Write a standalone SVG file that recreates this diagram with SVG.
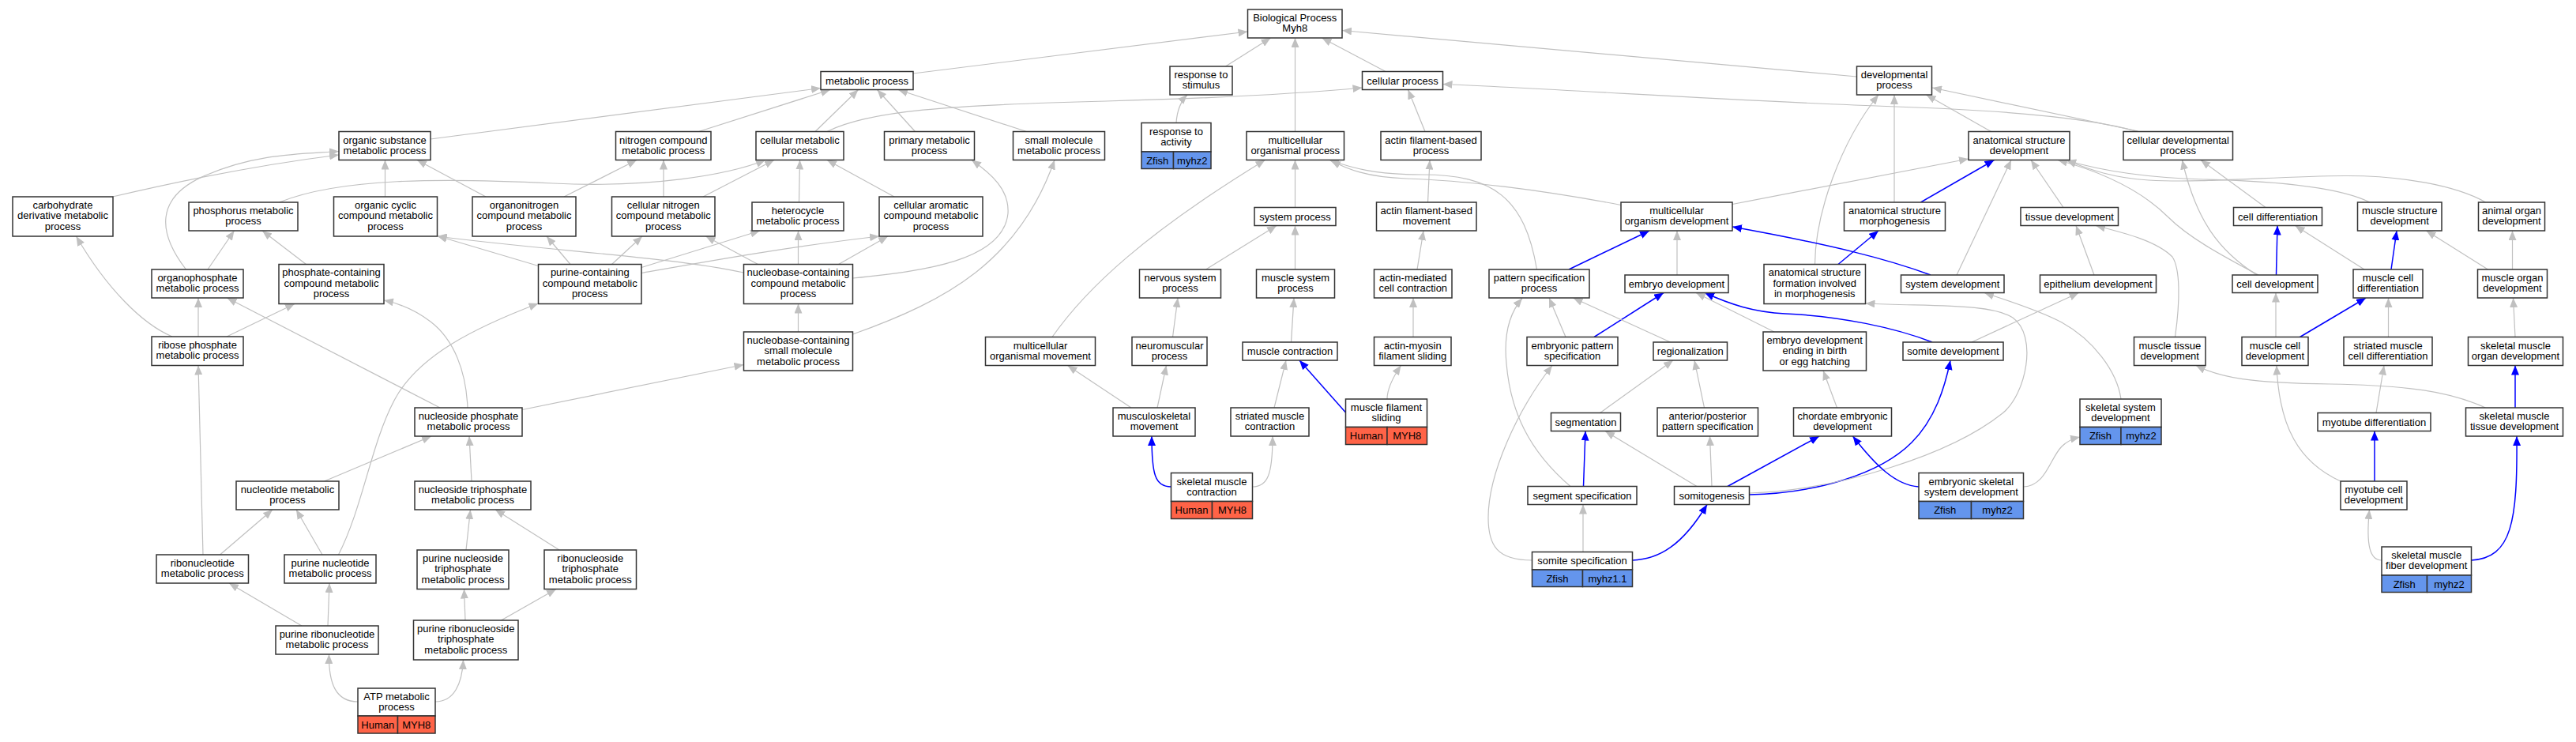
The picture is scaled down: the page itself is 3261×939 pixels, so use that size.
<svg xmlns="http://www.w3.org/2000/svg" width="3261" height="939" viewBox="0 0 3261 939">
<style>
.node rect{fill:#fff;stroke:#333;stroke-width:1.5}
.node rect.hs{fill:#ff6347}
.node rect.zf{fill:#6495ed}
text{font-family:"Liberation Sans",Arial,sans-serif;font-size:13px;text-anchor:middle;fill:#000}
.e{fill:none;stroke:#c0c0c0;stroke-width:1.2;marker-end:url(#ag)}
.e.b{stroke:#0000ff;stroke-width:1.5;marker-end:url(#ab)}
</style>
<defs>
<marker id="ag" viewBox="0 0 12 10" refX="12" refY="5" markerWidth="12" markerHeight="10" markerUnits="userSpaceOnUse" orient="auto"><path d="M0,0L12,5L0,10z" fill="#c0c0c0"/></marker>
<marker id="ab" viewBox="0 0 12 10" refX="12" refY="5" markerWidth="12" markerHeight="10" markerUnits="userSpaceOnUse" orient="auto"><path d="M0,0L12,5L0,10z" fill="#0000ff"/></marker>
</defs>
<rect width="3261" height="939" fill="#fff"/>
<g id="edges">
<path class="e" d="M142.5,249 Q300,212 429,196"/>
<path class="e" d="M235.5,341 C200,295 195,250 260,222 S380,195 429,191.5"/>
<path class="e" d="M487.5,249 L487.5,202.5"/>
<path class="e" d="M615,249 L528,202.5"/>
<path class="e" d="M545,176 L1039,111.5"/>
<path class="e" d="M353.5,256 C430,225 560,225 700,232 C820,238 920,222 969,202.5"/>
<path class="e" d="M263,341 L296.5,292"/>
<path class="e" d="M387.5,334.5 L332,292"/>
<path class="e" d="M251,426 L251,377"/>
<path class="e" d="M287,426 L373,384.5"/>
<path class="e" d="M218,426 C180,410 135,365 96.5,299"/>
<path class="e" d="M557,516 L287.5,377"/>
<path class="e" d="M592,516 C590,470 575,430 545,407 C525,392 505,384 486,380"/>
<path class="e" d="M410.5,609 L546,552"/>
<path class="e" d="M278.5,702 L345,645"/>
<path class="e" d="M408,702 L375,645"/>
<path class="e" d="M257,702 L251,462.5"/>
<path class="e" d="M382,792 L290,738"/>
<path class="e" d="M415,792 L417,738"/>
<path class="e" d="M453,888 C425,888 416,865 416.5,828"/>
<path class="e" d="M551,888 C575,888 585,865 586.5,835"/>
<path class="e" d="M589,785 L587.5,745.5"/>
<path class="e" d="M634.5,785 L704,745.5"/>
<path class="e" d="M590,696 L595.5,645"/>
<path class="e" d="M708,696 L627,645"/>
<path class="e" d="M597,609 L594,552"/>
<path class="e" d="M661,518.5 L941.5,461.5"/>
<path class="e" d="M428.5,702 C460,640 470,560 500,505 S600,415 681.5,384"/>
<path class="e" d="M884.5,166.5 L1051,113.5"/>
<path class="e" d="M1032,166.5 L1086.5,113.5"/>
<path class="e" d="M714,249 L806,202.5"/>
<path class="e" d="M840,249 L840,202.5"/>
<path class="e" d="M890,249 L980,202.5"/>
<path class="e" d="M1011.5,256 L1012.5,202.5"/>
<path class="e" d="M1132,249 L1047,202.5"/>
<path class="e" d="M722,334.5 L692,299"/>
<path class="e" d="M774.5,334.5 L813,299"/>
<path class="e" d="M812,338.5 L962,292"/>
<path class="e" d="M681.5,336.5 L553.5,298.5"/>
<path class="e" d="M941.5,345 C850,325 700,318 553.5,299"/>
<path class="e" d="M812,345.5 C900,330 1000,312 1113,299"/>
<path class="e" d="M1061.5,334.5 L1124,299"/>
<path class="e" d="M1010.5,334.5 L1010.5,292"/>
<path class="e" d="M959.5,334.5 L893.5,299"/>
<path class="e" d="M1010.5,420 L1010.5,384.5"/>
<path class="e" d="M1079.5,423 C1200,380 1290,330 1335,202.5"/>
<path class="e" d="M1079.5,352 C1170,343 1270,330 1276,270 C1278,240 1255,220 1230,202.5"/>
<path class="e" d="M1047,166.5 C1100,140 1200,133 1400,128 C1550,124 1650,118 1724.5,111"/>
<path class="e" d="M1156,93 L1579.5,40"/>
<path class="e" d="M1158.5,166.5 L1110.5,113.5"/>
<path class="e" d="M1299.5,166.5 L1137,113.5"/>
<path class="e" d="M1551.5,84 L1608.5,48"/>
<path class="e" d="M1489,155.5 C1490,140 1495,128 1503,120"/>
<path class="e" d="M1639.5,166.5 L1639.5,48"/>
<path class="e" d="M1754,90.5 L1673.5,48"/>
<path class="e" d="M2350.5,97 L1699,38.5"/>
<path class="e" d="M2706,166.5 C2650,150 2550,140 2400,135 C2200,128 2000,114 1826.5,106.5"/>
<path class="e" d="M1332,426.5 C1375,365 1450,295 1601.5,202.5"/>
<path class="e" d="M1639.5,262.5 L1639.5,202.5"/>
<path class="e" d="M1526.5,341 L1616,285.5"/>
<path class="e" d="M1639.5,341 L1639.5,285.5"/>
<path class="e" d="M1484.5,426.5 L1491,377"/>
<path class="e" d="M1634.5,433 L1638,377"/>
<path class="e" d="M1432,516 L1351.5,462.5"/>
<path class="e" d="M1465,516 L1476.5,462.5"/>
<path class="e" d="M1613,516 L1628,456"/>
<path class="e b" d="M1482.5,616 C1462,616 1458,600 1458,552"/>
<path class="e" d="M1585.5,616 C1605,616 1611,600 1611,552"/>
<path class="e b" d="M1703.5,522 L1645,456"/>
<path class="e" d="M1756,505 C1756,490 1765,475 1773.5,462.5"/>
<path class="e" d="M1789,426.5 L1789,377"/>
<path class="e" d="M1794,341 L1802,292"/>
<path class="e" d="M1807.5,256 L1810,202.5"/>
<path class="e" d="M1804,166.5 L1782.5,113.5"/>
<path class="e" d="M1945.5,341 C1930,250 1890,221 1800,221 C1740,221 1710,212 1683,202.5"/>
<path class="e" d="M2052,259.5 C1950,240 1850,228 1780,226 C1730,224 1705,214 1685,203"/>
<path class="e b" d="M1986,341 L2088,292"/>
<path class="e" d="M2123,348 L2123,292"/>
<path class="e" d="M1982,426.5 L1961,377"/>
<path class="e b" d="M2018,426.5 L2106,370.5"/>
<path class="e" d="M2114.5,433 L1991.5,377"/>
<path class="e b" d="M2446,433 C2400,415 2330,400 2260,397 C2220,395 2190,385 2158,370.5"/>
<path class="e" d="M2246,420 L2147,370.5"/>
<path class="e" d="M1988,615.5 C1935,570 1912,520 1907,460 C1903,420 1912,395 1927,377.5"/>
<path class="e" d="M1939.5,709 C1895,709 1884,690 1884,655 C1884,600 1920,520 1965,462.5"/>
<path class="e" d="M2025.5,522.5 L2118,456"/>
<path class="e" d="M2157.5,516 L2145,456"/>
<path class="e b" d="M2004.5,615.5 L2007,545.5"/>
<path class="e" d="M2148,615.5 L2032,545.5"/>
<path class="e" d="M2167,615.5 L2164.5,552"/>
<path class="e" d="M2004,698.5 L2004,638.5"/>
<path class="e b" d="M2066.5,709 C2100,708 2130,690 2161,638.5"/>
<path class="e b" d="M2214.5,626 C2300,624 2380,600 2420,560 C2450,530 2462,490 2469,456"/>
<path class="e b" d="M2187,615.5 L2303,552"/>
<path class="e" d="M2214.5,624 C2330,620 2470,575 2535,523 C2565,499 2580,425 2548,402 C2520,384 2450,388 2361.5,384"/>
<path class="e" d="M2325.5,516 L2308,469"/>
<path class="e b" d="M2429,616 C2400,614 2375,590 2345.5,552"/>
<path class="e" d="M2561.5,616 C2590,615 2595,580 2610,565 C2617,558 2624,555 2633,553"/>
<path class="e" d="M2685,505 C2680,470 2650,430 2610,408 C2580,392 2540,380 2512,370.5"/>
<path class="e" d="M2520.5,166.5 L2438.5,120"/>
<path class="e" d="M2398,256 L2398,120"/>
<path class="e" d="M2297.5,334.5 C2298,270 2330,180 2378,120"/>
<path class="e" d="M2706.5,166 L2446,111"/>
<path class="e" d="M2193,258.5 L2492,201"/>
<path class="e b" d="M2431.5,256 L2524.5,202.5"/>
<path class="e" d="M2477,348 L2546,202.5"/>
<path class="e" d="M2612,262.5 L2571,202.5"/>
<path class="e" d="M3000,256 C2960,236 2880,229 2790,227 C2720,225 2660,216 2616,203"/>
<path class="e" d="M3146.5,256 C3110,235 3040,222 2968,222.5 C2880,223 2790,232 2720,228 C2670,225 2640,212 2616,203"/>
<path class="e" d="M2859,348 C2810,322 2770,300 2745,275 C2715,245 2670,220 2605,202.5"/>
<path class="e" d="M2857,348 C2810,318 2780,280 2762.5,202.5"/>
<path class="e" d="M2868,262.5 L2786,202.5"/>
<path class="e" d="M2651,348 L2628,285.5"/>
<path class="e" d="M2753.5,426.5 C2760,380 2760,340 2750,325 C2730,305 2690,295 2653,285.5"/>
<path class="e" d="M2496,433 L2631.5,370.5"/>
<path class="e b" d="M2444,348 C2390,328 2320,310 2193,287"/>
<path class="e b" d="M2881.5,348 L2883,285.5"/>
<path class="e" d="M2993,341 L2905.5,285.5"/>
<path class="e b" d="M3027,341 L3034,292"/>
<path class="e" d="M3149.5,341 L3071.5,292"/>
<path class="e" d="M3180.5,341 L3180.5,292"/>
<path class="e" d="M2881,426.5 L2881,370.5"/>
<path class="e b" d="M2911.5,426.5 L2995,377"/>
<path class="e" d="M3023.5,426.5 L3023.5,377"/>
<path class="e" d="M3184,426.5 L3181.5,377"/>
<path class="e b" d="M3184,516 L3184,462.5"/>
<path class="e" d="M3146.5,516 C3100,495 3050,488 2950,486 C2850,485 2810,478 2780,462.5"/>
<path class="e" d="M2963,609 C2910,585 2885,540 2882,462.5"/>
<path class="e" d="M3008,522.5 L3018,462.5"/>
<path class="e b" d="M3006,609 L3006,545.5"/>
<path class="e" d="M3015,709 C3000,709 2995,690 2999.5,645"/>
<path class="e b" d="M3128.5,709 C3180,706 3187,660 3186,552"/>
<path class="e b" d="M2327,334.5 L2378,292"/>
</g>
<g id="n_organic_substance" class="node"><rect x="429" y="166.5" width="116" height="36"/><text x="487" y="181.5">organic substance</text><text x="487" y="194.5">metabolic process</text></g>
<g id="n_carbohydrate_derivative" class="node"><rect x="16" y="249" width="127" height="50"/><text x="79.5" y="263.5">carbohydrate</text><text x="79.5" y="277">derivative metabolic</text><text x="79.5" y="290.5">process</text></g>
<g id="n_phosphorus" class="node"><rect x="239" y="256" width="138" height="36"/><text x="308" y="271">phosphorus metabolic</text><text x="308" y="284">process</text></g>
<g id="n_organic_cyclic" class="node"><rect x="422.5" y="249" width="131" height="50"/><text x="488" y="263.5">organic cyclic</text><text x="488" y="277">compound metabolic</text><text x="488" y="290.5">process</text></g>
<g id="n_organophosphate" class="node"><rect x="192" y="341" width="116" height="36"/><text x="250" y="356">organophosphate</text><text x="250" y="369">metabolic process</text></g>
<g id="n_phosphate_containing" class="node"><rect x="353" y="334.5" width="133" height="50"/><text x="419.5" y="349">phosphate-containing</text><text x="419.5" y="362.5">compound metabolic</text><text x="419.5" y="376">process</text></g>
<g id="n_ribose_phosphate" class="node"><rect x="192" y="426" width="116" height="36.5"/><text x="250" y="441">ribose phosphate</text><text x="250" y="454">metabolic process</text></g>
<g id="n_nucleotide" class="node"><rect x="299" y="609" width="130" height="36"/><text x="364" y="624">nucleotide metabolic</text><text x="364" y="637">process</text></g>
<g id="n_ribonucleotide" class="node"><rect x="198" y="702" width="116.5" height="36"/><text x="256.25" y="717">ribonucleotide</text><text x="256.25" y="730">metabolic process</text></g>
<g id="n_purine_nucleotide" class="node"><rect x="360" y="702" width="116" height="36"/><text x="418" y="717">purine nucleotide</text><text x="418" y="730">metabolic process</text></g>
<g id="n_purine_ribonucleotide" class="node"><rect x="349" y="792" width="130" height="36"/><text x="414" y="807">purine ribonucleotide</text><text x="414" y="820">metabolic process</text></g>
<g id="n_atp" class="node"><rect x="453" y="871" width="98" height="35"/><rect class="hs" x="453" y="906" width="50.5" height="22"/><rect class="hs" x="503.5" y="906" width="47.5" height="22"/><text x="502" y="886">ATP metabolic</text><text x="502" y="899">process</text><text x="478.25" y="921.5">Human</text><text x="527.25" y="921.5">MYH8</text></g>
<g id="n_nucleoside_phosphate" class="node"><rect x="525" y="516" width="136" height="36"/><text x="593" y="531">nucleoside phosphate</text><text x="593" y="544">metabolic process</text></g>
<g id="n_nucleoside_triphosphate" class="node"><rect x="525" y="609" width="147" height="36"/><text x="598.5" y="624">nucleoside triphosphate</text><text x="598.5" y="637">metabolic process</text></g>
<g id="n_purine_nucleoside_triphosphate" class="node"><rect x="528" y="696" width="116" height="49.5"/><text x="586" y="710.5">purine nucleoside</text><text x="586" y="724">triphosphate</text><text x="586" y="737.5">metabolic process</text></g>
<g id="n_ribonucleoside_triphosphate" class="node"><rect x="689" y="696" width="116.5" height="49.5"/><text x="747.25" y="710.5">ribonucleoside</text><text x="747.25" y="724">triphosphate</text><text x="747.25" y="737.5">metabolic process</text></g>
<g id="n_purine_ribonucleoside_triphosphate" class="node"><rect x="523.5" y="785" width="132.5" height="50"/><text x="589.75" y="799.5">purine ribonucleoside</text><text x="589.75" y="813">triphosphate</text><text x="589.75" y="826.5">metabolic process</text></g>
<g id="n_metabolic_process" class="node"><rect x="1039" y="90.5" width="117" height="23"/><text x="1097.5" y="106.5">metabolic process</text></g>
<g id="n_nitrogen_compound" class="node"><rect x="779.5" y="166.5" width="120.5" height="36"/><text x="839.75" y="181.5">nitrogen compound</text><text x="839.75" y="194.5">metabolic process</text></g>
<g id="n_cellular_metabolic" class="node"><rect x="957" y="166.5" width="111" height="36"/><text x="1012.5" y="181.5">cellular metabolic</text><text x="1012.5" y="194.5">process</text></g>
<g id="n_organonitrogen" class="node"><rect x="598" y="249" width="131" height="50"/><text x="663.5" y="263.5">organonitrogen</text><text x="663.5" y="277">compound metabolic</text><text x="663.5" y="290.5">process</text></g>
<g id="n_cellular_nitrogen" class="node"><rect x="774.5" y="249" width="130.5" height="50"/><text x="839.75" y="263.5">cellular nitrogen</text><text x="839.75" y="277">compound metabolic</text><text x="839.75" y="290.5">process</text></g>
<g id="n_heterocycle" class="node"><rect x="952" y="256" width="116" height="36"/><text x="1010" y="271">heterocycle</text><text x="1010" y="284">metabolic process</text></g>
<g id="n_purine_containing" class="node"><rect x="681.5" y="334.5" width="130.5" height="50"/><text x="746.75" y="349">purine-containing</text><text x="746.75" y="362.5">compound metabolic</text><text x="746.75" y="376">process</text></g>
<g id="n_nucleobase_compound" class="node"><rect x="941.5" y="334.5" width="138" height="50"/><text x="1010.5" y="349">nucleobase-containing</text><text x="1010.5" y="362.5">compound metabolic</text><text x="1010.5" y="376">process</text></g>
<g id="n_nucleobase_small" class="node"><rect x="941.5" y="420" width="138" height="49"/><text x="1010.5" y="434.5">nucleobase-containing</text><text x="1010.5" y="448">small molecule</text><text x="1010.5" y="461.5">metabolic process</text></g>
<g id="n_primary_metabolic" class="node"><rect x="1119.5" y="166.5" width="114" height="36"/><text x="1176.5" y="181.5">primary metabolic</text><text x="1176.5" y="194.5">process</text></g>
<g id="n_small_molecule" class="node"><rect x="1282.5" y="166.5" width="116" height="36"/><text x="1340.5" y="181.5">small molecule</text><text x="1340.5" y="194.5">metabolic process</text></g>
<g id="n_cellular_aromatic" class="node"><rect x="1113" y="249" width="131" height="50"/><text x="1178.5" y="263.5">cellular aromatic</text><text x="1178.5" y="277">compound metabolic</text><text x="1178.5" y="290.5">process</text></g>
<g id="n_biological_process" class="node"><rect x="1579.5" y="12" width="119.5" height="36"/><text x="1639.25" y="27">Biological Process</text><text x="1639.25" y="40">Myh8</text></g>
<g id="n_response_stimulus" class="node"><rect x="1481" y="84" width="79" height="36"/><text x="1520.5" y="99">response to</text><text x="1520.5" y="112">stimulus</text></g>
<g id="n_response_activity" class="node"><rect x="1445" y="155.5" width="88" height="36.5"/><rect class="zf" x="1445" y="192" width="40.5" height="21.5"/><rect class="zf" x="1485.5" y="192" width="47.5" height="21.5"/><text x="1489" y="170.5">response to</text><text x="1489" y="183.5">activity</text><text x="1465.25" y="207.5">Zfish</text><text x="1509.25" y="207.5">myhz2</text></g>
<g id="n_multicellular_organismal_process" class="node"><rect x="1578" y="166.5" width="123.5" height="36"/><text x="1639.75" y="181.5">multicellular</text><text x="1639.75" y="194.5">organismal process</text></g>
<g id="n_system_process" class="node"><rect x="1588" y="262.5" width="103" height="23"/><text x="1639.5" y="278.5">system process</text></g>
<g id="n_nervous_system_process" class="node"><rect x="1442.5" y="341" width="103" height="36"/><text x="1494" y="356">nervous system</text><text x="1494" y="369">process</text></g>
<g id="n_muscle_system_process" class="node"><rect x="1590.5" y="341" width="99" height="36"/><text x="1640" y="356">muscle system</text><text x="1640" y="369">process</text></g>
<g id="n_organismal_movement" class="node"><rect x="1247.5" y="426.5" width="139" height="36"/><text x="1317" y="441.5">multicellular</text><text x="1317" y="454.5">organismal movement</text></g>
<g id="n_neuromuscular" class="node"><rect x="1433" y="426.5" width="95" height="36"/><text x="1480.5" y="441.5">neuromuscular</text><text x="1480.5" y="454.5">process</text></g>
<g id="n_muscle_contraction" class="node"><rect x="1573" y="433" width="120" height="23"/><text x="1633" y="449">muscle contraction</text></g>
<g id="n_musculoskeletal" class="node"><rect x="1409" y="516" width="104" height="36"/><text x="1461" y="531">musculoskeletal</text><text x="1461" y="544">movement</text></g>
<g id="n_striated_contraction" class="node"><rect x="1558" y="516" width="99" height="36"/><text x="1607.5" y="531">striated muscle</text><text x="1607.5" y="544">contraction</text></g>
<g id="n_skeletal_contraction" class="node"><rect x="1482.5" y="598.5" width="103" height="36"/><rect class="hs" x="1482.5" y="634.5" width="52" height="22"/><rect class="hs" x="1534.5" y="634.5" width="51" height="22"/><text x="1534" y="613.5">skeletal muscle</text><text x="1534" y="626.5">contraction</text><text x="1508.5" y="650">Human</text><text x="1560" y="650">MYH8</text></g>
<g id="n_cellular_process" class="node"><rect x="1724.5" y="90.5" width="102" height="23"/><text x="1775.5" y="106.5">cellular process</text></g>
<g id="n_actin_process" class="node"><rect x="1748" y="166.5" width="127" height="36"/><text x="1811.5" y="181.5">actin filament-based</text><text x="1811.5" y="194.5">process</text></g>
<g id="n_actin_movement" class="node"><rect x="1742.5" y="256" width="126.5" height="36"/><text x="1805.75" y="271">actin filament-based</text><text x="1805.75" y="284">movement</text></g>
<g id="n_actin_mediated" class="node"><rect x="1739.5" y="341" width="98.5" height="36"/><text x="1788.75" y="356">actin-mediated</text><text x="1788.75" y="369">cell contraction</text></g>
<g id="n_actin_myosin" class="node"><rect x="1739.5" y="426.5" width="97.5" height="36"/><text x="1788.25" y="441.5">actin-myosin</text><text x="1788.25" y="454.5">filament sliding</text></g>
<g id="n_muscle_filament" class="node"><rect x="1703.5" y="505" width="103" height="35.5"/><rect class="hs" x="1703.5" y="540.5" width="52.5" height="22"/><rect class="hs" x="1756" y="540.5" width="50.5" height="22"/><text x="1755" y="520">muscle filament</text><text x="1755" y="533">sliding</text><text x="1729.75" y="556">Human</text><text x="1781.25" y="556">MYH8</text></g>
<g id="n_organism_development" class="node"><rect x="2052" y="256" width="141" height="36"/><text x="2122.5" y="271">multicellular</text><text x="2122.5" y="284">organism development</text></g>
<g id="n_pattern_specification" class="node"><rect x="1885" y="341" width="127" height="36"/><text x="1948.5" y="356">pattern specification</text><text x="1948.5" y="369">process</text></g>
<g id="n_embryo_development" class="node"><rect x="2057" y="348" width="131" height="22.5"/><text x="2122.5" y="363.5">embryo development</text></g>
<g id="n_embryonic_pattern" class="node"><rect x="1933" y="426.5" width="115" height="36"/><text x="1990.5" y="441.5">embryonic pattern</text><text x="1990.5" y="454.5">specification</text></g>
<g id="n_regionalization" class="node"><rect x="2093" y="433" width="93.5" height="23"/><text x="2139.75" y="449">regionalization</text></g>
<g id="n_segmentation" class="node"><rect x="1963.5" y="522.5" width="88" height="23"/><text x="2007.5" y="538.5">segmentation</text></g>
<g id="n_anterior_posterior" class="node"><rect x="2098" y="516" width="127.5" height="36"/><text x="2161.75" y="531">anterior/posterior</text><text x="2161.75" y="544">pattern specification</text></g>
<g id="n_segment_specification" class="node"><rect x="1934" y="615.5" width="138" height="23"/><text x="2003" y="631.5">segment specification</text></g>
<g id="n_somitogenesis" class="node"><rect x="2119.5" y="615.5" width="95" height="23"/><text x="2167" y="631.5">somitogenesis</text></g>
<g id="n_somite_specification" class="node"><rect x="1939.5" y="698.5" width="127" height="22.5"/><rect class="zf" x="1939.5" y="721" width="64" height="21.5"/><rect class="zf" x="2003.5" y="721" width="63" height="21.5"/><text x="2003" y="714">somite specification</text><text x="1971.5" y="736.5">Zfish</text><text x="2035" y="736.5">myhz1.1</text></g>
<g id="n_developmental_process" class="node"><rect x="2350.5" y="84" width="95" height="36"/><text x="2398" y="99">developmental</text><text x="2398" y="112">process</text></g>
<g id="n_as_development" class="node"><rect x="2492" y="166.5" width="128" height="36"/><text x="2556" y="181.5">anatomical structure</text><text x="2556" y="194.5">development</text></g>
<g id="n_cellular_developmental" class="node"><rect x="2688" y="166.5" width="138.5" height="36"/><text x="2757.25" y="181.5">cellular developmental</text><text x="2757.25" y="194.5">process</text></g>
<g id="n_as_morphogenesis" class="node"><rect x="2334.5" y="256" width="128" height="36"/><text x="2398.5" y="271">anatomical structure</text><text x="2398.5" y="284">morphogenesis</text></g>
<g id="n_tissue_development" class="node"><rect x="2558" y="262.5" width="123.5" height="23"/><text x="2619.75" y="278.5">tissue development</text></g>
<g id="n_as_formation" class="node"><rect x="2233" y="334.5" width="128.5" height="50"/><text x="2297.25" y="349">anatomical structure</text><text x="2297.25" y="362.5">formation involved</text><text x="2297.25" y="376">in morphogenesis</text></g>
<g id="n_system_development" class="node"><rect x="2406.5" y="348" width="130.5" height="22.5"/><text x="2471.75" y="363.5">system development</text></g>
<g id="n_epithelium_development" class="node"><rect x="2582.5" y="348" width="147" height="22.5"/><text x="2656" y="363.5">epithelium development</text></g>
<g id="n_embryo_ending" class="node"><rect x="2232" y="420" width="130.5" height="49"/><text x="2297.25" y="434.5">embryo development</text><text x="2297.25" y="448">ending in birth</text><text x="2297.25" y="461.5">or egg hatching</text></g>
<g id="n_somite_development" class="node"><rect x="2409" y="433" width="127" height="23"/><text x="2472.5" y="449">somite development</text></g>
<g id="n_muscle_tissue_development" class="node"><rect x="2701.5" y="426.5" width="90.5" height="36"/><text x="2746.75" y="441.5">muscle tissue</text><text x="2746.75" y="454.5">development</text></g>
<g id="n_chordate_embryonic" class="node"><rect x="2270.5" y="516" width="124" height="36"/><text x="2332.5" y="531">chordate embryonic</text><text x="2332.5" y="544">development</text></g>
<g id="n_embryonic_skeletal" class="node"><rect x="2429" y="598.5" width="132.5" height="36"/><rect class="zf" x="2429" y="634.5" width="66.5" height="22"/><rect class="zf" x="2495.5" y="634.5" width="66" height="22"/><text x="2495.25" y="613.5">embryonic skeletal</text><text x="2495.25" y="626.5">system development</text><text x="2462.25" y="650">Zfish</text><text x="2528.5" y="650">myhz2</text></g>
<g id="n_skeletal_system" class="node"><rect x="2633" y="505" width="103" height="35.5"/><rect class="zf" x="2633" y="540.5" width="52" height="22"/><rect class="zf" x="2685" y="540.5" width="51" height="22"/><text x="2684.5" y="520">skeletal system</text><text x="2684.5" y="533">development</text><text x="2659" y="556">Zfish</text><text x="2710.5" y="556">myhz2</text></g>
<g id="n_cell_differentiation" class="node"><rect x="2827.5" y="262.5" width="112" height="23"/><text x="2883.5" y="278.5">cell differentiation</text></g>
<g id="n_muscle_structure" class="node"><rect x="2984.5" y="256" width="106.5" height="36"/><text x="3037.75" y="271">muscle structure</text><text x="3037.75" y="284">development</text></g>
<g id="n_animal_organ" class="node"><rect x="3137.5" y="256" width="84" height="36"/><text x="3179.5" y="271">animal organ</text><text x="3179.5" y="284">development</text></g>
<g id="n_cell_development" class="node"><rect x="2826" y="348" width="108" height="22.5"/><text x="2880" y="363.5">cell development</text></g>
<g id="n_muscle_cell_differentiation" class="node"><rect x="2979" y="341" width="88" height="36"/><text x="3023" y="356">muscle cell</text><text x="3023" y="369">differentiation</text></g>
<g id="n_muscle_organ" class="node"><rect x="3136.5" y="341" width="88" height="36"/><text x="3180.5" y="356">muscle organ</text><text x="3180.5" y="369">development</text></g>
<g id="n_muscle_cell_development" class="node"><rect x="2838" y="426.5" width="84" height="36"/><text x="2880" y="441.5">muscle cell</text><text x="2880" y="454.5">development</text></g>
<g id="n_striated_cell_differentiation" class="node"><rect x="2967" y="426.5" width="112" height="36"/><text x="3023" y="441.5">striated muscle</text><text x="3023" y="454.5">cell differentiation</text></g>
<g id="n_skeletal_organ" class="node"><rect x="3124.5" y="426.5" width="120" height="36"/><text x="3184.5" y="441.5">skeletal muscle</text><text x="3184.5" y="454.5">organ development</text></g>
<g id="n_myotube_differentiation" class="node"><rect x="2934" y="522.5" width="143" height="23"/><text x="3005.5" y="538.5">myotube differentiation</text></g>
<g id="n_skeletal_tissue" class="node"><rect x="3121.5" y="516" width="123" height="36"/><text x="3183" y="531">skeletal muscle</text><text x="3183" y="544">tissue development</text></g>
<g id="n_myotube_cell" class="node"><rect x="2963" y="609" width="84" height="36"/><text x="3005" y="624">myotube cell</text><text x="3005" y="637">development</text></g>
<g id="n_skeletal_fiber" class="node"><rect x="3015" y="692" width="113.5" height="36"/><rect class="zf" x="3015" y="728" width="57.5" height="21.5"/><rect class="zf" x="3072.5" y="728" width="56" height="21.5"/><text x="3071.75" y="707">skeletal muscle</text><text x="3071.75" y="720">fiber development</text><text x="3043.75" y="743.5">Zfish</text><text x="3100.5" y="743.5">myhz2</text></g>
</svg>
